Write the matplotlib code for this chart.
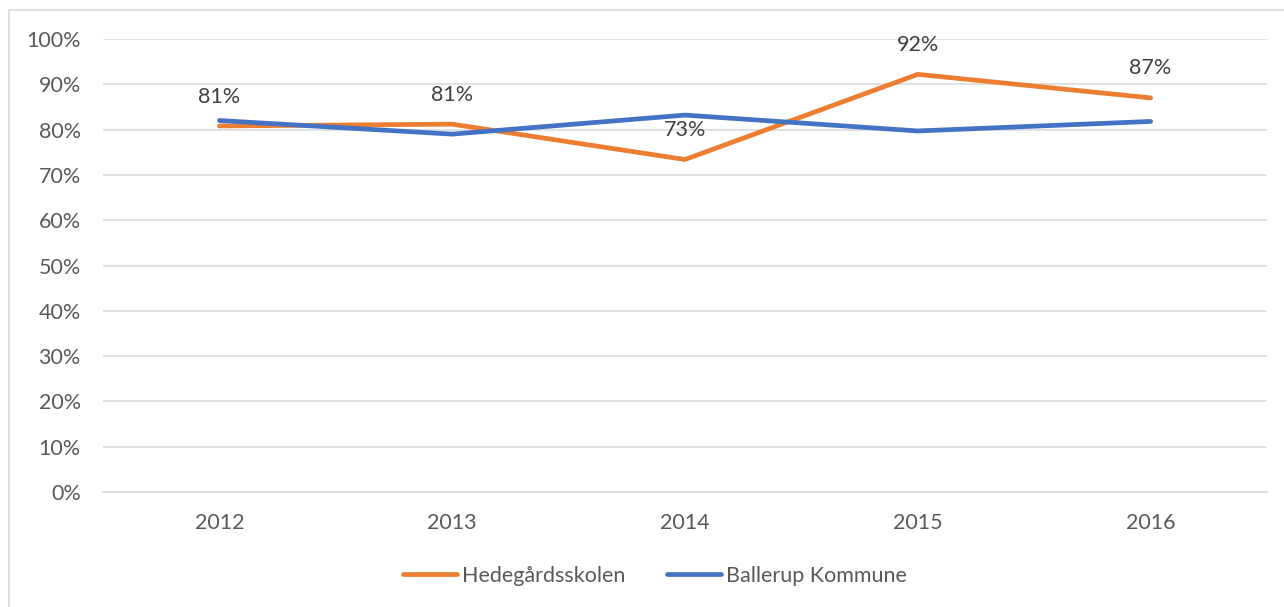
import matplotlib.pyplot as plt
from matplotlib.patches import Rectangle
from matplotlib.ticker import PercentFormatter

years = ["2012", "2013", "2014", "2015", "2016"]
hedegaard = [80.8, 81.2, 73.4, 92.2, 87.0]
ballerup = [82.0, 79.0, 83.2, 79.7, 81.8]
hedegaard_labels = ["81%", "81%", "73%", "92%", "87%"]

plt.rcParams["font.family"] = ["Lato", "DejaVu Sans"]
fs = 15.5

fig = plt.figure(figsize=(12.84, 6.07), dpi=100)
ax = fig.add_axes([103 / 1284, 1 - 492 / 607, 1164 / 1284, 453 / 607])

# outer chart border (Excel style)
fig.patches.append(Rectangle((9 / 1284, -0.01), 1.02, 1 - 10 / 607 + 0.01,
                             transform=fig.transFigure, fill=False,
                             edgecolor="#d9d9d9", linewidth=1.2))

x = range(len(years))
ax.plot(x, hedegaard, color="#ED7D31", linewidth=3.4, solid_capstyle="round",
        label="Hedegårdsskolen", zorder=3)
ax.plot(x, ballerup, color="#4472C4", linewidth=3.4, solid_capstyle="round",
        label="Ballerup Kommune", zorder=3)

for xi, v, lab in zip(x, hedegaard, hedegaard_labels):
    ax.annotate(lab, (xi, v), xytext=(0, 14), textcoords="offset points",
                ha="center", va="bottom", fontsize=fs, color="#404040")

ax.set_xlim(-0.5, len(years) - 0.5)
ax.set_ylim(0, 100)
ax.set_yticks(range(0, 101, 10))
ax.yaxis.set_major_formatter(PercentFormatter(decimals=0))
ax.set_xticks(list(x))
ax.set_xticklabels(years)
ax.grid(axis="y", color="#d9d9d9", linewidth=1.1)
ax.set_axisbelow(True)
for s in ["top", "right", "left"]:
    ax.spines[s].set_visible(False)
ax.spines["bottom"].set_color("#d9d9d9")
ax.spines["bottom"].set_linewidth(1.1)
ax.tick_params(length=0, labelsize=fs, labelcolor="#595959")
ax.tick_params(axis="x", pad=15)
ax.tick_params(axis="y", pad=16)

handles, labels = ax.get_legend_handles_labels()
fig.legend(handles, labels, loc="center", bbox_to_anchor=(655 / 1284, 1 - 576 / 607),
           ncol=2, frameon=False, fontsize=fs, labelcolor="#595959",
           handlelength=2.5, handletextpad=0.25, columnspacing=1.9)

fig.savefig("out.png", dpi=100)
